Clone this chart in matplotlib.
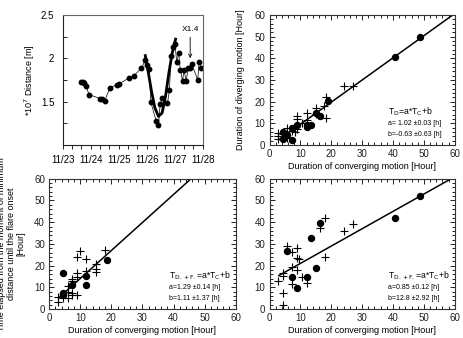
import matplotlib as mpl
mpl.use('agg')
import matplotlib.pyplot as plt
from matplotlib.ticker import MultipleLocator

plt.rcParams['font.family'] = ['Liberation Sans', 'DejaVu Sans']

# --- top-left: distance time series (days after 11/23 00:00, 1e7 m)
dist_t = [0.665, 0.72, 0.77, 0.83, 0.95, 1.35, 1.41, 1.50, 1.69, 1.94, 2.02,
          2.35, 2.54, 2.81, 2.95, 3.00, 3.08, 3.15, 3.34, 3.42, 3.48, 3.55,
          3.74, 3.81, 3.87, 3.94, 4.01, 4.07, 4.14, 4.20, 4.28, 4.33, 4.41,
          4.48, 4.54, 4.61, 4.82, 4.87, 4.94]
dist_v = [1.729, 1.725, 1.71, 1.675, 1.58, 1.535, 1.53, 1.51, 1.66, 1.695,
          1.706, 1.77, 1.80, 1.885, 1.977, 1.92, 1.88, 1.49, 1.275, 1.225,
          1.47, 1.54, 1.48, 1.63, 2.03, 2.13, 2.16, 1.955, 2.065, 1.86, 1.74,
          1.86, 1.74, 1.89, 1.89, 1.93, 1.75, 1.96, 1.89]
fit_t = [2.95, 3.05, 3.17, 3.29, 3.42, 3.55, 3.67, 3.79, 3.91, 4.03]
fit_v = [2.03, 1.85, 1.62, 1.43, 1.33, 1.37, 1.56, 1.83, 2.06, 2.22]
day_labels = ['11/23', '11/24', '11/25', '11/26', '11/27', '11/28']

# --- top-right: converging vs diverging duration
tr_dot_x = [48.9, 40.8, 19.0, 15.0, 16.4, 13.4, 12.0, 12.0, 9.0, 7.2, 5.7, 4.2, 4.2, 7.4]
tr_dot_y = [49.6, 40.6, 20.5, 14.9, 13.6, 9.0, 8.4, 9.0, 9.2, 7.7, 4.4, 6.0, 2.6, 2.1]
tr_plus_x = [24.1, 27.0, 18.2, 18.2, 17.7, 15.0, 12.0, 9.0, 9.0, 9.0, 10.5, 5.7,
             2.7, 2.7, 2.7, 4.2, 5.7, 7.2, 8.3, 15.0, 12.0]
tr_plus_y = [27.1, 27.1, 22.1, 12.3, 17.9, 17.2, 14.9, 13.2, 11.8, 7.2, 10.0, 8.0,
             5.7, 4.1, 2.9, 4.9, 3.4, 6.4, 6.0, 14.1, 11.5]
tr_line_x = [3, 60]
tr_line_y = [2.4, 60.6]

# --- bottom-left: converging duration vs time to flare onset
bl_dot_x = [18.7, 4.4, 12.0, 12.0, 7.4, 4.4, 4.4, 4.4]
bl_dot_y = [22.5, 16.5, 15.4, 11.2, 11.2, 7.4, 6.2, 6.8]
bl_plus_x = [9.9, 17.9, 8.9, 12.0, 15.0, 15.0, 15.0, 12.0, 8.9, 8.9, 7.4, 7.4,
             5.9, 7.4, 7.4, 8.9, 2.9, 2.9, 4.4, 5.9, 5.9]
bl_plus_y = [26.6, 27.1, 23.8, 22.8, 20.5, 18.5, 16.9, 17.4, 16.5, 14.6, 13.8, 12.8,
             10.5, 7.2, 6.2, 6.2, 5.4, 3.4, 4.9, 5.1, 7.7]
bl_line_x = [3, 45.6]
bl_line_y = [5.0, 60]

# --- bottom-right: diverging + flare
br_dot_x = [48.9, 40.8, 16.4, 13.4, 5.8, 15.0, 12.0, 7.4, 8.9]
br_dot_y = [52.2, 42.0, 39.5, 32.9, 26.5, 18.8, 14.9, 14.9, 9.8]
br_plus_x = [18.1, 16.4, 27.0, 24.1, 18.1, 5.8, 7.4, 8.9, 8.9, 9.4, 8.9, 7.4,
             4.3, 4.3, 10.4, 12.0, 7.4, 2.8, 4.3, 4.2]
br_plus_y = [42.0, 37.4, 39.2, 36.0, 23.8, 28.8, 26.3, 28.3, 23.7, 22.8, 17.8, 19.2,
             16.5, 15.1, 14.6, 11.8, 11.4, 12.8, 7.2, 1.8]
br_line_x = [3, 58.8]
br_line_y = [15.4, 60]


def _style_scatter_axes(axes):
    """0-60 square axes with inward ticks on all sides"""
    axes.set_xlim(0, 60)
    axes.set_ylim(0, 60)
    axes.xaxis.set_major_locator(MultipleLocator(10))
    axes.yaxis.set_major_locator(MultipleLocator(10))
    axes.xaxis.set_minor_locator(MultipleLocator(2))
    axes.yaxis.set_minor_locator(MultipleLocator(2))
    axes.tick_params(which='both', direction='in', top=True, right=True,
                     labelsize=7, width=0.7, colors='#222')
    axes.tick_params(which='major', length=3.5, pad=3)
    axes.tick_params(which='minor', length=2)
    for sp in axes.spines.values():
        sp.set_linewidth(0.8)
        sp.set_color('#333')


def _scatter(axes, dx, dy, px, py, lx, ly):
    axes.plot(px, py, '+', color='k', ms=6, mew=0.8, ls='none')
    axes.plot(dx, dy, 'o', color='k', ms=4.3, ls='none')
    axes.plot(lx, ly, color='k', lw=1.1, clip_on=True)


def _fit_text(axes, head, a_txt, b_txt):
    axes.text(38.5, 15.2, head, fontsize=6.2, ha='left', va='center')
    axes.text(38.5, 10.0, a_txt, fontsize=5.0, ha='left', va='center')
    axes.text(38.5, 5.0, b_txt, fontsize=5.0, ha='left', va='center')


def main():
    fig = plt.figure(figsize=(4.64, 3.38), dpi=100)

    # top-left
    ax1 = fig.add_axes([0.135, 0.571, 0.302, 0.385])
    ax1.plot(dist_t, dist_v, '-', color='k', lw=0.5)
    ax1.plot(dist_t, dist_v, 'o', color='k', ms=3.2)
    ax1.plot(fit_t, fit_v, '-', color='k', lw=2.0)
    ax1.set_xlim(0, 5)
    ax1.set_ylim(1.0, 2.5)
    ax1.set_xticks(range(6))
    ax1.set_xticklabels(day_labels)
    ax1.xaxis.set_minor_locator(MultipleLocator(1 / 3))
    ax1.set_yticks([1.5, 2, 2.5])
    ax1.set_yticklabels(['1.5', '2', '2.5'])
    ax1.yaxis.set_minor_locator(MultipleLocator(0.25))
    ax1.tick_params(axis='x', which='both', direction='out', length=3,
                    labelsize=7, width=0.6, pad=4)
    ax1.tick_params(axis='y', which='both', direction='in', length=3,
                    labelsize=7, width=0.6, pad=6)
    for sp in ax1.spines.values():
        sp.set_linewidth(0.8)
        sp.set_color('#666')
    ax1.spines['left'].set_color('#222')
    ax1.spines['bottom'].set_color('#222')
    ax1.set_ylabel('*10$^7$ Distance [m]', fontsize=6.5, labelpad=3)
    ax1.annotate('X1.4', xy=(4.55, 2.0), xytext=(4.55, 2.29), fontsize=6,
                 ha='center', va='bottom',
                 arrowprops=dict(arrowstyle='->', color='k', lw=0.6,
                                 shrinkA=1, shrinkB=0))

    # top-right
    ax2 = fig.add_axes([0.581, 0.571, 0.399, 0.385])
    _style_scatter_axes(ax2)
    _scatter(ax2, tr_dot_x, tr_dot_y, tr_plus_x, tr_plus_y, tr_line_x, tr_line_y)
    _fit_text(ax2, 'T$_\\mathrm{D}$=a*T$_\\mathrm{C}$+b',
              'a= 1.02 \u00b10.03 [h]', 'b=-0.63 \u00b10.63 [h]')
    ax2.set_xlabel('Duration of converging motion [Hour]', fontsize=6.5, labelpad=2)
    ax2.set_ylabel('Duration of diverging motion [Hour]', fontsize=6.5, labelpad=7)

    # bottom-left
    ax3 = fig.add_axes([0.106, 0.086, 0.402, 0.385])
    _style_scatter_axes(ax3)
    _scatter(ax3, bl_dot_x, bl_dot_y, bl_plus_x, bl_plus_y, bl_line_x, bl_line_y)
    _fit_text(ax3, 'T$_\\mathrm{D.+F.}$=a*T$_\\mathrm{C}$+b',
              'a=1.29 \u00b10.14 [h]', 'b=1.11 \u00b11.37 [h]')
    ax3.set_xlabel('Duration of converging motion [Hour]', fontsize=6.5, labelpad=2)
    ax3.set_ylabel('Time elapsed from the moment of minimum\n'
                   'distance until the flare onset\n[Hour]',
                   fontsize=6.5, labelpad=6, linespacing=1.1)

    # bottom-right
    ax4 = fig.add_axes([0.581, 0.086, 0.399, 0.385])
    _style_scatter_axes(ax4)
    _scatter(ax4, br_dot_x, br_dot_y, br_plus_x, br_plus_y, br_line_x, br_line_y)
    _fit_text(ax4, 'T$_\\mathrm{D.+F.}$=a*T$_\\mathrm{C}$+b',
              'a=0.85 \u00b10.12 [h]', 'b=12.8 \u00b12.92 [h]')
    ax4.set_xlabel('Duration of converging motion [Hour]', fontsize=6.5, labelpad=2)

    fig.savefig('out.png', dpi=100)


if __name__ == '__main__':
    main()
